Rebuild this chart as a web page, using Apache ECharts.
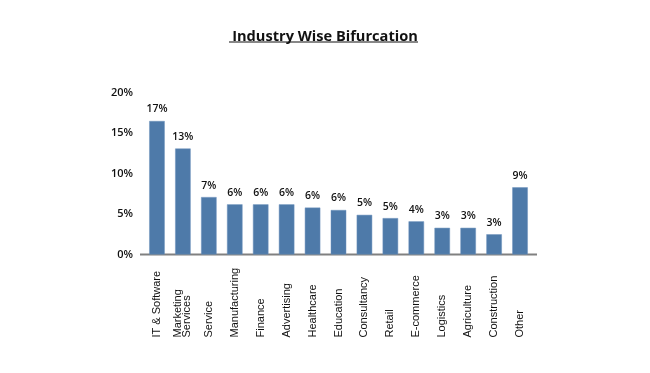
<!DOCTYPE html>
<html><head><meta charset="utf-8">
<script src="https://cdn.jsdelivr.net/npm/echarts@6/dist/echarts.min.js"></script>
<style>html,body{margin:0;padding:0;background:#fff}#c{width:650px;height:373px}</style>
</head><body><div id="c"></div>
<script>
const categories = ['IT & Software','Marketing\nServices','Service','Manufacturing','Finance','Advertising','Healthcare','Education','Consultancy','Retail','E-commerce','Logistics','Agriculture','Construction','Other'];
const values = [16.5, 13.1, 7.1, 6.2, 6.2, 6.2, 5.8, 5.5, 4.9, 4.5, 4.1, 3.3, 3.3, 2.5, 8.3];
const labels = ['17%','13%','7%','6%','6%','6%','6%','6%','5%','5%','4%','3%','3%','3%','9%'];
const yTicks = [0, 5, 10, 15, 20];

const chart = echarts.init(document.getElementById('c'));
chart.setOption({
  animation: false,
  title: {
    text: 'Industry Wise Bifurcation',
    left: 'center', top: 24,
    textStyle: { fontFamily: 'Open Sans', fontWeight: 'bold', fontSize: 14.6, color: '#111' }
  },
  graphic: [{
    type: 'line', shape: { x1: 229, y1: 42, x2: 418, y2: 42 },
    style: { stroke: '#111', lineWidth: 1.2 }
  }, {
    type: 'line', shape: { x1: 140, y1: 254.5, x2: 537, y2: 254.5 },
    style: { stroke: '#808080', lineWidth: 2 }, z: 1
  }],
  grid: { left: 144, right: 117, top: 92.7, bottom: 118.5 },
  xAxis: {
    type: 'category', data: categories,
    axisLine: { show: false },
    axisTick: { show: false },
    axisLabel: {
      rotate: 90, align: 'left', margin: 83, interval: 0,
      fontFamily: 'Liberation Sans', fontSize: 11, color: '#111', lineHeight: 9
    }
  },
  yAxis: {
    type: 'value', min: yTicks[0], max: yTicks[yTicks.length-1], interval: 5,
    axisLine: { show: false }, axisTick: { show: false }, splitLine: { show: false },
    axisLabel: { formatter: v => v + '%', margin: 11, fontFamily: 'Open Sans', fontWeight: 600, fontSize: 11, color: '#111' }
  },
  series: [{
    type: 'bar', data: values, barWidth: 15.5,
    itemStyle: { color: '#4e7aa9', borderColor: '#6e93bd', borderWidth: 0.5 },
    label: {
      show: true, position: 'top', distance: 6,
      formatter: p => labels[p.dataIndex],
      fontFamily: 'Open Sans', fontWeight: 600, fontSize: 10.5, color: '#111'
    }
  }]
});
</script></body></html>
